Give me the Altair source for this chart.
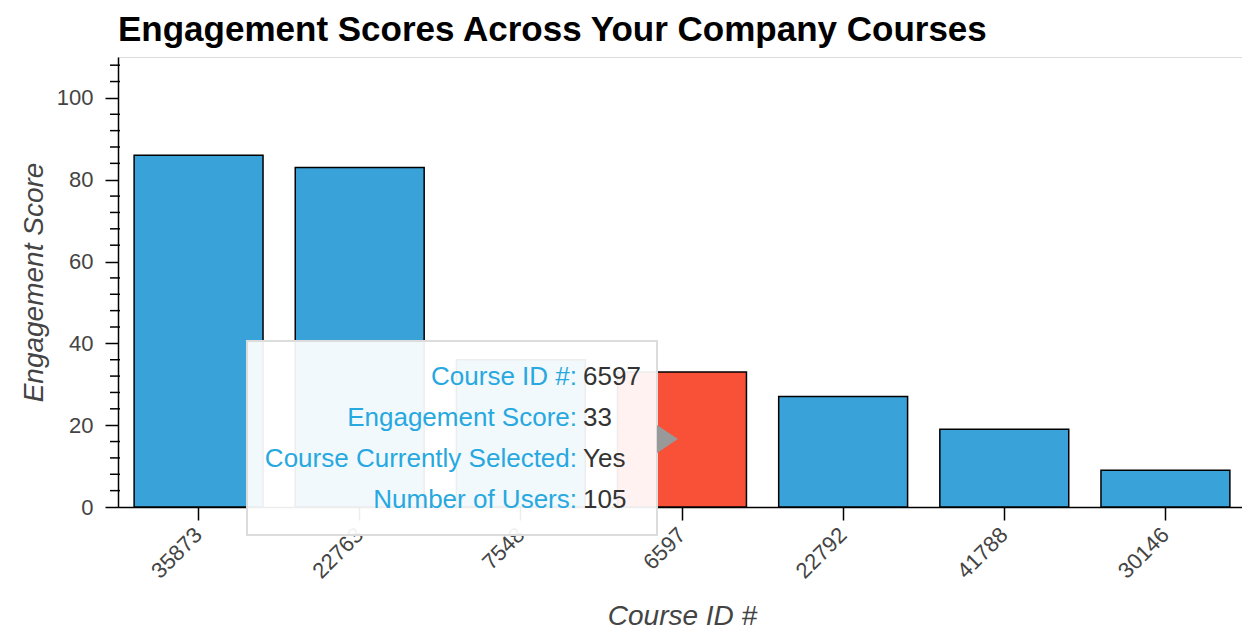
import altair as alt
import pandas as pd

# ---- data ----
courses = ["35873", "22763", "7548", "6597", "22792", "41788", "30146"]
scores = [86, 83, 36, 33, 27, 19, 9]
selected = ["No", "No", "No", "Yes", "No", "No", "No"]
y_major = [0, 20, 40, 60, 80, 100]
y_minor = [4, 8, 12, 16, 24, 28, 32, 36, 44, 48, 52, 56, 64, 68, 72, 76,
           84, 88, 92, 96, 104, 108]
tooltip_labels = ["Course ID #:", "Engagement Score:", "Course Currently Selected:", "Number of Users:"]
tooltip_values = ["6597", "33", "Yes", "105"]

df = pd.DataFrame({"course": courses, "score": scores, "selected": selected})
minor_df = pd.DataFrame({"v": y_minor})

FONT = "Liberation Sans"
W, H = 1124, 450
BLUE = "#39a3d9"
RED = "#f95038"

x_enc = alt.X("course:N", sort=courses,
              scale=alt.Scale(paddingInner=0.2, paddingOuter=0.1, range=[0, 1128]),
              axis=alt.Axis(title="Course ID #", labelAngle=-45, labelAlign="right",
                            labelBaseline="middle", labelFontSize=22, labelColor="#444",
                            labelFont=FONT, labelPadding=11,
                            tickSize=13, tickWidth=1.5, tickColor="black",
                            domainColor="black", domainWidth=1.5,
                            titleFont=FONT, titleFontSize=28, titleFontStyle="italic",
                            titleFontWeight="normal", titleColor="#444", titlePadding=20))
y_scale = alt.Scale(domain=[0, 110], nice=False, zero=True)
y_enc = alt.Y("score:Q", scale=y_scale,
              axis=alt.Axis(title="Engagement Score", values=y_major, labelFontSize=22,
                            labelColor="#444", labelFont=FONT, labelPadding=12,
                            tickSize=13, tickWidth=1.5, tickColor="black",
                            domainColor="black", domainWidth=1.5, grid=False,
                            titleFont=FONT, titleFontSize=28, titleFontStyle="italic",
                            titleFontWeight="normal", titleColor="#444", titlePadding=8))

bars = alt.Chart(df).mark_bar(stroke="black", strokeWidth=1.5).encode(
    x=x_enc,
    y=y_enc,
    color=alt.Color("selected:N", scale=alt.Scale(domain=["No", "Yes"], range=[BLUE, RED]),
                    legend=None),
)

minor = alt.Chart(minor_df).mark_rule(color="black", strokeWidth=1.5).encode(
    y=alt.Y("v:Q", scale=y_scale),
    x=alt.value(-8), x2=alt.value(2),
)

sel = alt.Chart(df).transform_filter(alt.datum.selected == "Yes")

box = sel.mark_rect(fill="white", fillOpacity=0.93, stroke="#dcdcdc", strokeWidth=2).encode(
    x=alt.value(129), x2=alt.value(539), y=alt.value(284), y2=alt.value(478)
)
arrow = sel.mark_point(shape="M -0.75,-1 L 0.75,0 L -0.75,1 Z", filled=True,
                       color="#999999", opacity=1, size=784).encode(
    x=alt.value(549.5), y=alt.value(382))

layers = [bars, minor, box, arrow]
row0, gap = 320, 41
for i, (lab, val) in enumerate(zip(tooltip_labels, tooltip_values)):
    layers.append(sel.mark_text(text=lab, align="right", baseline="middle", font=FONT,
                                fontSize=26, color="#27a8df").encode(
        x=alt.value(459), y=alt.value(row0 + i * gap)))
    layers.append(sel.mark_text(text=val, align="left", baseline="middle", font=FONT,
                                fontSize=26, color="#333333").encode(
        x=alt.value(465), y=alt.value(row0 + i * gap)))

chart = alt.layer(*layers).properties(
    width=W, height=H,
    title=alt.TitleParams("Engagement Scores Across Your Company Courses", anchor="start",
                          frame="group", font=FONT, fontSize=35, fontWeight="bold",
                          color="black", offset=9),
    autosize=alt.AutoSizeParams(type="none"),
    padding={"left": 118, "top": 57, "right": 0, "bottom": 127},
).configure_view(stroke="#e3e3e3", strokeWidth=1.5).configure(background="white")

chart.save("out.html", embed_options={"renderer": "svg", "actions": False})
